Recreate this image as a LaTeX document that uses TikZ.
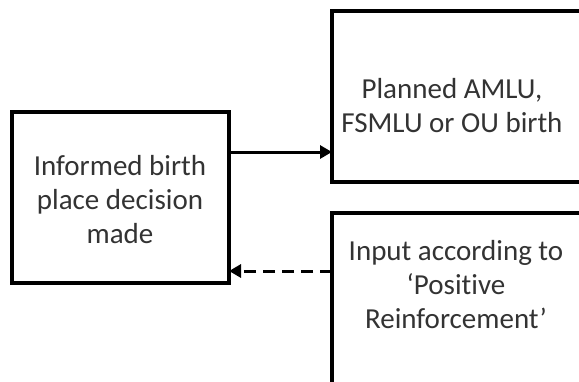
\documentclass[tikz,border=0pt]{standalone}
\usepackage{fontspec}
\setmainfont{Carlito}[RawFeature=-liga]
\usetikzlibrary{arrows.meta}
\begin{document}
\begin{tikzpicture}[x=1pt,y=-1pt,
  boxstyle/.style={draw=black,line width=4pt,fill=white},
  txt/.style={text=black!80,align=center,font=\fontsize{29}{34}\selectfont,inner sep=0pt},
  conn/.style={line width=3pt,-{Triangle[length=12pt,width=13pt]}},
  dconn/.style={conn,dash pattern=on 12pt off 7pt}]
\useasboundingbox (0,0) rectangle (579,381);
\clip (0,0) rectangle (579,381);
\draw[boxstyle] (12,112) rectangle (229,283);
\draw[boxstyle] (332,11) rectangle (600,182);
\draw[boxstyle] (332,213) rectangle (600,400);
\node[txt] (left) at (120,200) {Informed birth\\place decision\\made};
\node[txt] (rtop) at (452,106) {Planned AMLU,\\FSMLU or OU birth};
\node[txt] (rbot) at (456,285) {Input according to\\‘Positive\\Reinforcement’};
\coordinate (lA) at (229,152);
\coordinate (rA) at (332,152);
\coordinate (lB) at (229,271);
\coordinate (rB) at (332,271);
\draw[conn] (lA) -- (rA);
\draw[dconn] (rB) -- (lB);
\end{tikzpicture}
\end{document}
